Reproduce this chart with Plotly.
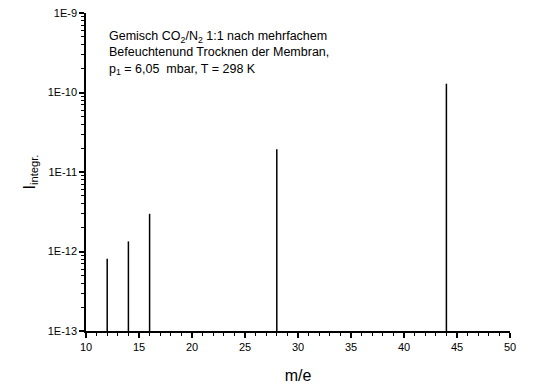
import plotly.graph_objects as go

mass = [12, 14, 16, 28, 44]
intensity = [8.1e-13, 1.34e-12, 2.98e-12, 1.93e-11, 1.29e-10]
baseline = 1e-13
ytick_vals = [1e-13, 1e-12, 1e-11, 1e-10, 1e-9]
ytick_text = ["1E-13", "1E-12", "1E-11", "1E-10", "1E-9"]
ymin_vals = [k * 10.0 ** e for e in range(-13, -9) for k in range(2, 10)]

xs, ys = [], []
for m, v in zip(mass, intensity):
    xs += [m, m, None]
    ys += [baseline, v, None]

fig = go.Figure()
fig.add_trace(go.Scatter(x=xs, y=ys, mode="lines",
                         line=dict(color="black", width=1.5),
                         showlegend=False, hoverinfo="skip"))

font = "Liberation Sans, Arial, sans-serif"
fig.update_layout(
    width=537, height=392,
    margin=dict(l=78, r=35, t=5, b=69, autoexpand=False),
    paper_bgcolor="white", plot_bgcolor="white",
    font=dict(family=font, color="black", size=11),
    xaxis=dict(range=[10, 50], tickmode="linear", dtick=5, tick0=10, showgrid=False, zeroline=False,
               showline=True, linecolor="black", linewidth=1.5, automargin=False,
               ticks="outside", ticklen=5, tickwidth=1.5, tickcolor="black",
               ticklabeloverflow="allow",
               minor=dict(ticks="outside", ticklen=3, tickwidth=1, tickcolor="black",
                          tickmode="linear", tick0=10, dtick=1, showgrid=False),
               tickfont=dict(size=11),
               title=dict(text="m/e", font=dict(size=16), standoff=18)),
    yaxis=dict(type="log", range=[-13, -9], showgrid=False, zeroline=False,
               showline=True, linecolor="black", linewidth=1.5, automargin=False,
               tickmode="array", tickvals=ytick_vals, ticktext=ytick_text,
               ticks="outside", ticklen=5, tickwidth=1.5, tickcolor="black",
               ticklabeloverflow="allow",
               minor=dict(ticks="outside", ticklen=3, tickwidth=1, tickcolor="black",
                          tickmode="array", tickvals=ymin_vals, showgrid=False),
               tickfont=dict(size=11),
               title=dict(text="I<sub>integr.</sub>", font=dict(size=16), standoff=8)),
)

fig.add_annotation(
    x=0.05, y=0.955, xref="paper", yref="paper", xanchor="left", yanchor="top",
    align="left", showarrow=False,
    font=dict(size=12.5, family=font),
    text="Gemisch CO<sub>2</sub>/N<sub>2</sub> 1:1 nach mehrfachem<br>"
         "Befeuchtenund Trocknen der Membran,<br>"
         "p<sub>1</sub> = 6,05  mbar, T = 298 K",
)

fig.write_html("out.html")
